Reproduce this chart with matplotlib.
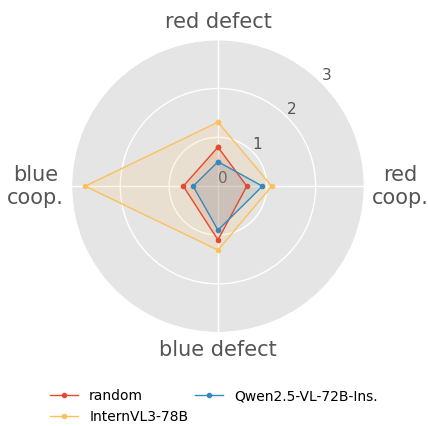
import numpy as np
import matplotlib
matplotlib.use('Agg')
import matplotlib.pyplot as plt

plt.style.use('ggplot')

# categories, clockwise from the top
categories = ['red defect', 'red\ncoop.', 'blue defect', 'blue\ncoop.']

# scores per model
random_vals = [0.80, 0.59, 1.10, 0.71]
qwen_vals = [0.50, 0.91, 0.90, 0.51]
intern_vals = [1.31, 1.10, 1.31, 2.72]

series = [
    ('random', random_vals, '#E24A33'),
    ('InternVL3-78B', intern_vals, '#FBC15E'),
    ('Qwen2.5-VL-72B-Ins.', qwen_vals, '#348ABD'),
]

angles = np.linspace(0, 2 * np.pi, len(categories), endpoint=False)
angles_closed = np.concatenate([angles, angles[:1]])

fig = plt.figure(figsize=(4.28, 4.26), dpi=100)
ax = fig.add_axes([0.1668, 0.219, 0.685, 0.688], projection='polar')
ax.set_theta_offset(np.pi / 2)
ax.set_theta_direction(-1)

for name, vals, color in series:
    v = np.concatenate([vals, vals[:1]])
    ax.plot(angles_closed, v, color=color, linewidth=1, marker='o',
            markersize=3, label=name)
    ax.fill(angles_closed, v, color=color, alpha=0.15)

ax.set_xticks(angles)
ax.set_xticklabels(categories, fontsize=15, color='#555555')
ax.tick_params(axis='x', pad=-5)
# align the category labels away from the circle
aligns = [('center', 'bottom'), ('left', 'center'),
          ('center', 'top'), ('right', 'center')]
for lab, (ha, va) in zip(ax.get_xticklabels(), aligns):
    lab.set_ha(ha)
    lab.set_va(va)
    lab.set_multialignment('center')

ax.set_ylim(0, 3)
ax.set_yticks([0, 1, 2, 3])
ax.set_yticklabels(['0', '1', '2', '3'], fontsize=11, color='#555555')
ax.set_rlabel_position(45)
ax.grid(color='white', linewidth=1)

handles, labels = ax.get_legend_handles_labels()
fig.legend(handles, labels,
           loc='lower center', bbox_to_anchor=(0.5, -0.025), ncol=2,
           frameon=False, fontsize=10, handlelength=2, columnspacing=0.5,
           labelspacing=0.5)

fig.savefig('out.png', dpi=100, facecolor='white')
